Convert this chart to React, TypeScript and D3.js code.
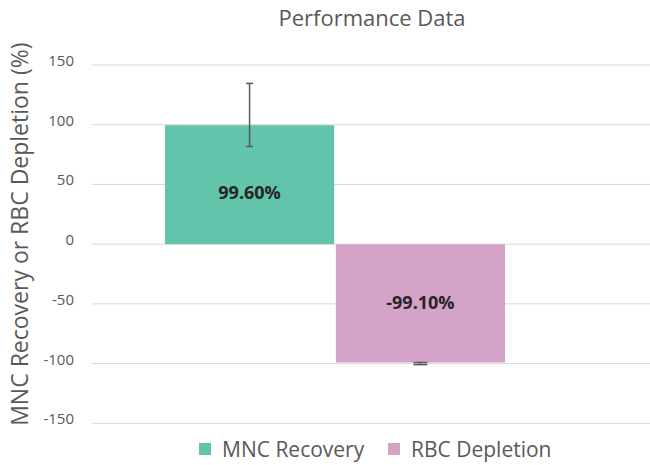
import React from "react";
import * as d3 from "d3";

const series = ["MNC Recovery", "RBC Depletion"];
const values = [99.6, -99.1];
const labels = ["99.60%", "-99.10%"];
const errHigh = [134.6, -99.1];
const errLow = [81.8, -100.9];
const colors = ["#62c4ab", "#d6a3c8"];
const yTicks = [-150, -100, -50, 0, 50, 100, 150];

const W = 650;
const H = 465;
const plotLeft = 92;
const font = "'Open Sans', 'Noto Sans', sans-serif";

export default function App() {
  const y = d3.scaleLinear().domain([-150, 150]).range([423.3, 65]);
  const x = d3.scaleBand().domain(series).range([165, 505]).paddingInner(0.01);
  const capW = [7, 14];
  const labelShift = [14, 6];

  return (
    <svg width={W} height={H} style={{ position: "absolute", left: 0, top: 0 }}>
      <rect width={W} height={H} fill="#fff" />
      <text x={372} y={26} textAnchor="middle" fontFamily={font} fontSize={22} fill="#595959">
        Performance Data
      </text>

      {/* gridlines + tick labels */}
      {yTicks.map((t) => (
        <g key={t}>
          <line x1={plotLeft} x2={W} y1={y(t)} y2={y(t)} stroke="#d9d9d9" strokeWidth={1} />
          <text x={74} y={y(t) + 1} textAnchor="end" fontFamily={font} fontSize={15} fill="#595959">
            {t}
          </text>
        </g>
      ))}

      <text
        transform={`translate(28,${y(0) - 10}) rotate(-90)`}
        textAnchor="middle"
        fontFamily={font}
        fontSize={23}
        fill="#595959"
      >
        MNC Recovery or RBC Depletion (%)
      </text>

      {/* bars */}
      {series.map((s, i) => {
        const x0 = x(s)!;
        const top = y(Math.max(0, values[i]));
        const bot = y(Math.min(0, values[i]));
        const cx = x0 + x.bandwidth() / 2;
        return (
          <g key={s}>
            <rect x={x0} y={top} width={x.bandwidth()} height={bot - top} fill={colors[i]} />
            <text
              x={cx}
              y={(top + bot) / 2 + labelShift[i]}
              textAnchor="middle"
              fontFamily={font}
              fontSize={18}
              fontWeight="bold"
              fill="#262626"
            >
              {labels[i]}
            </text>
            <g stroke="#595959" strokeWidth={1.5}>
              <line x1={cx} x2={cx} y1={y(errHigh[i])} y2={y(errLow[i])} />
              <line x1={cx - capW[i] / 2} x2={cx + capW[i] / 2} y1={y(errHigh[i])} y2={y(errHigh[i])} />
              <line x1={cx - capW[i] / 2} x2={cx + capW[i] / 2} y1={y(errLow[i])} y2={y(errLow[i])} />
            </g>
          </g>
        );
      })}

      {/* legend */}
      {series.map((s, i) => {
        const lx = [199, 388][i];
        return (
          <g key={s}>
            <rect x={lx} y={443} width={12} height={12} fill={colors[i]} />
            <text x={lx + 23} y={457} fontFamily={font} fontSize={21} fill="#595959">
              {s}
            </text>
          </g>
        );
      })}
    </svg>
  );
}
